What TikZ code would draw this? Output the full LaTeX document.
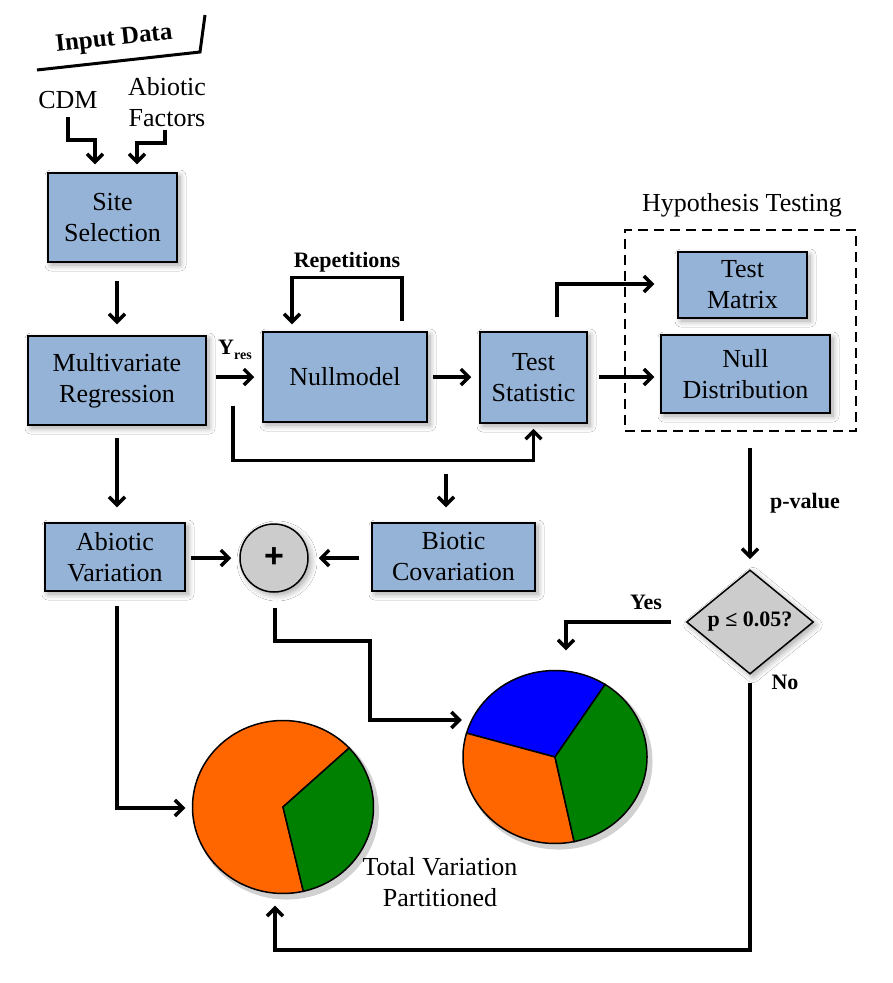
\documentclass[tikz,border=0pt]{standalone}
\usepackage{fontspec}
\setmainfont{Liberation Serif}
\newfontfamily\plusfont{Liberation Sans}
\usetikzlibrary{arrows.meta,shapes.geometric,shadows,shadows.blur,calc}
\definecolor{boxblue}{HTML}{95B3D7}
\definecolor{pieorange}{HTML}{FF6600}
\definecolor{piegreen}{HTML}{008000}
\definecolor{pieblue}{HTML}{0000FF}
\definecolor{plusgray}{HTML}{CCCCCC}
\begin{document}
\begin{tikzpicture}[x=1pt,y=-1pt,
  shad/.style={blur shadow={shadow xshift=3pt, shadow yshift=-3pt, shadow blur radius=6pt, shadow blur steps=8, shadow opacity=35}},
  box/.style={draw=black, line width=1.5pt, fill=boxblue, align=center, inner sep=0pt,
    font=\fontsize{26}{31}\selectfont, shad},
  arr/.style={line width=3.5pt, -{Straight Barb[length=8pt,width=16pt]}},
  ln/.style={line width=3.5pt},
  lbl/.style={font=\bfseries\fontsize{22}{26}\selectfont},
  txt/.style={font=\fontsize{26}{31}\selectfont, align=center}]
\useasboundingbox (0,0) rectangle (892,983);
\fill[white] (0,0) rectangle (892,983);

% input data
\node[font=\bfseries\fontsize{25}{28}\selectfont, rotate=6.3] (input) at (114,40) {Input Data};
\coordinate (ul1) at (37,70);
\coordinate (ul2) at (200,52);
\coordinate (ul3) at (205,15);
\draw[line width=3pt] (ul1) -- (ul2) -- (ul3);
\node[txt] (cdm) at (68,100) {CDM};
\node[txt] (abf) at (167,102) {Abiotic\\Factors};
\coordinate (cdmout) at (68,117);
\coordinate (abfout) at (165,130);

% boxes
\node[box, minimum width=129pt, minimum height=89pt] (site) at (112.5,217.5) {Site\\Selection};
\node[box, minimum width=178pt, minimum height=89pt] (mvr) at (117,380.5) {Multivariate\\Regression};
\node[box, minimum width=164pt, minimum height=90pt] (null) at (345,377) {Nullmodel};
\node[box, minimum width=107pt, minimum height=91pt] (ts) at (533.5,377.5) {Test\\Statistic};
\node[draw, dash pattern=on 10pt off 6pt, line width=2.8pt, minimum width=231pt, minimum height=201pt] (hyp) at (740.5,330.5) {};
\node[txt] (hyplbl) at (742,205) {Hypothesis Testing};
\node[box, minimum width=129pt, minimum height=66pt] (tm) at (742.5,285) {Test\\Matrix};
\node[box, minimum width=169pt, minimum height=78pt] (nd) at (745.5,374) {Null\\Distribution};
\node[box, minimum width=140pt, minimum height=68pt] (av) at (115,557) {Abiotic\\Variation};
\node[box, minimum width=163pt, minimum height=68pt] (bc) at (453.5,557) {Biotic\\Covariation};
\node[circle, draw, line width=1.5pt, fill=plusgray, minimum size=68pt, inner sep=0pt,
  font=\plusfont\bfseries\fontsize{34}{34}\selectfont, shad] (plus) at (274,558) {+};
\node[diamond, draw, line width=1.5pt, fill=plusgray, minimum width=127pt, minimum height=95pt,
  inner sep=0pt, lbl, shad] (dec) at (750,622) {p ≤ 0.05?};

% labels
\node[font=\bfseries\fontsize{22}{26}\selectfont] (yres) at (235,350) {Y\raisebox{-5pt}{\fontsize{14}{14}\selectfont res}};
\node[lbl] (rep) at (347,262) {Repetitions};
\node[lbl] (pval) at (805,503) {p-value};
\node[lbl] (yes) at (646,602) {Yes};
\node[lbl] (no) at (785,682) {No};
\node[txt] (total) at (440,882) {Total Variation\\Partitioned};

% pies
\node[ellipse, minimum width=181pt, minimum height=173pt, inner sep=0pt] (pieL) at (283,807) {};
\node[ellipse, minimum width=184pt, minimum height=173pt, inner sep=0pt] (pieR) at (555,757) {};
\begin{scope}[shift={(283,807)}, x=90.5pt, y=86.5pt]
  \fill[black, opacity=0.18] (0.04,-0.05) circle[radius=1.02];
  \filldraw[fill=pieorange, line width=1.5pt] (0,0) -- (43:1) arc[start angle=43, end angle=283, radius=1] -- cycle;
  \filldraw[fill=piegreen, line width=1.5pt] (0,0) -- (-77:1) arc[start angle=-77, end angle=43, radius=1] -- cycle;
\end{scope}
\begin{scope}[shift={(555,757)}, x=92pt, y=86.5pt]
  \fill[black, opacity=0.18] (0.04,-0.05) circle[radius=1.02];
  \filldraw[fill=pieblue, line width=1.5pt] (0,0) -- (57:1) arc[start angle=57, end angle=164, radius=1] -- cycle;
  \filldraw[fill=pieorange, line width=1.5pt] (0,0) -- (164:1) arc[start angle=164, end angle=282, radius=1] -- cycle;
  \filldraw[fill=piegreen, line width=1.5pt] (0,0) -- (282:1) arc[start angle=282, end angle=417, radius=1] -- cycle;
\end{scope}

% connectors
\draw[arr] (cdmout) -- ++(0,23) -| ($(site.north)+(-17.5,-8)$);
\draw[arr] (abfout) -- ++(0,13) -| ($(site.north)+(24.5,-8)$);
\draw[arr] ($(site.south)+(4.5,18)$) -- ($(mvr.north)+(0,-11)$);
\draw[arr] ($(mvr.east |- null.west)+(9,0)$) -- ($(null.west)+(-8,0)$);
\draw[arr] ($(null.north)+(57,-10)$) -- ++(0,-44) -| ($(null.north)+(-53,-7)$);
\draw[arr] ($(null.east)+(5,0)$) -- ($(ts.west |- null.east)+(-8,0)$);
\draw[arr] ($(ts.east |- null.east)+(11,0)$) -- ($(nd.west |- null.east)+(-6,0)$);
\draw[arr] ($(ts.north)+(23.5,-14)$) |- ($(tm.west)+(-23,-1)$);
\draw[arr] ($(mvr.east)+(26,25)$) -- ++(0,55) -| ($(ts.south)+(0,5)$);
\draw[arr] ($(bc.north)+(-7.5,-48)$) -- ($(bc.north)+(-7.5,-15)$);
\draw[arr] ($(mvr.south)+(0,12)$) -- ($(av.north)+(2,-15)$);
\draw[arr] ($(av.east)+(5,1)$) -- ($(plus.west)+(-8,0)$);
\draw[arr] ($(bc.west)+(-12,1)$) -- ($(plus.east)+(10,0)$);
\draw[arr] ($(plus.south)+(1,15)$) -- ++(0,33) -- ++(95,0) |- ($(pieR.west)+(-1,-37)$);
\draw[arr] ($(av.south)+(2,14)$) |- ($(pieL.west)+(-7,1)$);
\draw[arr] ($(hyp.south)+(9.5,16)$) -- ($(dec.north)+(0,-10)$);
\draw[arr] ($(dec.west)+(-15,0)$) -| ($(pieR.north)+(11,-20)$);
\draw[arr] ($(dec.south)+(0,8)$) -- ++(0,267) -| ($(pieL.south)+(-8,12)$);
\end{tikzpicture}
\end{document}
